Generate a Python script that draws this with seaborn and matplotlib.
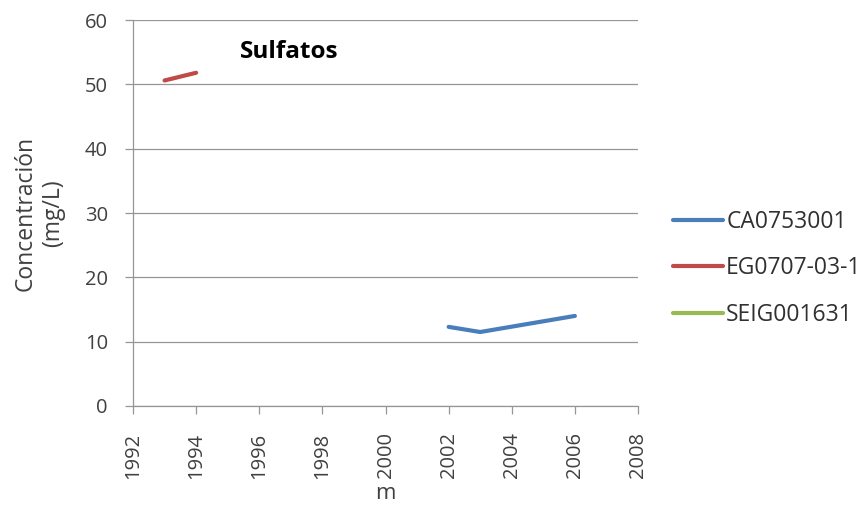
import matplotlib
matplotlib.use("Agg")
import matplotlib.pyplot as plt
from matplotlib.lines import Line2D
import seaborn as sns
import pandas as pd

# Sulfate concentration per monitoring station
stations = ["CA0753001", "EG0707-03-1", "SEIG001631"]
ca_years = [2002, 2003, 2006]
ca_values = [12.3, 11.5, 14.0]
eg_years = [1993, 1994]
eg_values = [50.6, 51.8]
seig_years = []
seig_values = []

colors = ["#4A7EBB", "#BE4B48", "#98B954"]
x_ticks = list(range(1992, 2009, 2))
y_ticks = list(range(0, 61, 10))

frames = []
for name, yrs, vals in zip(stations, [ca_years, eg_years, seig_years],
                           [ca_values, eg_values, seig_values]):
    frames.append(pd.DataFrame({"m": yrs, "conc": vals, "station": name}))
df = pd.concat(frames, ignore_index=True)
df["m"] = df["m"].astype(float)
df["conc"] = df["conc"].astype(float)

sns.set_style("white")
plt.rcParams["font.family"] = ["Open Sans", "DejaVu Sans"]

fig = plt.figure(figsize=(8.67, 5.08), dpi=100)
ax = fig.add_axes([0.1534, 0.2008, 0.5825, 0.7598])

palette = dict(zip(stations, colors))
sns.lineplot(data=df, x="m", y="conc", hue="station", hue_order=stations,
             palette=palette, linewidth=3.0, legend=False, ax=ax,
             estimator=None, sort=True)

ax.set_xlim(1992, 2008)
ax.set_ylim(0, 60)
ax.set_xticks(x_ticks)
ax.set_yticks(y_ticks)
ax.set_xticklabels([str(t) for t in x_ticks], rotation=90)
ax.yaxis.grid(True, color="#969696", linewidth=0.9)
ax.xaxis.grid(False)
ax.set_axisbelow(True)

for side in ["top", "right"]:
    ax.spines[side].set_visible(False)
for side in ["left", "bottom"]:
    ax.spines[side].set_color("#969696")
    ax.spines[side].set_linewidth(0.9)

ax.tick_params(axis="both", which="major", direction="out", length=6,
               width=0.9, color="#969696", labelsize=14.5, labelcolor="#404040",
               bottom=True, left=True)
ax.tick_params(axis="y", pad=12)
ax.tick_params(axis="x", pad=13)

ax.set_xlabel("m", fontsize=16, color="#404040", labelpad=3)
ax.set_ylabel("Concentración\n(mg/L)", fontsize=16.5, color="#404040",
              labelpad=14, linespacing=1.2)

ax.text(0.212, 0.917, "Sulfatos", transform=ax.transAxes, fontsize=17.5,
        fontweight="bold", color="black", ha="left", va="center")

handles = [Line2D([0], [0], color=c, linewidth=3.0) for c in colors]
fig.legend(handles, stations, loc="center left",
           bbox_to_anchor=(0.776, 0.472), frameon=False, fontsize=16.5,
           handlelength=2.2, handletextpad=0.13, labelspacing=0.98,
           borderpad=0, borderaxespad=0, labelcolor="#303030")

fig.savefig("out.png", dpi=100)
